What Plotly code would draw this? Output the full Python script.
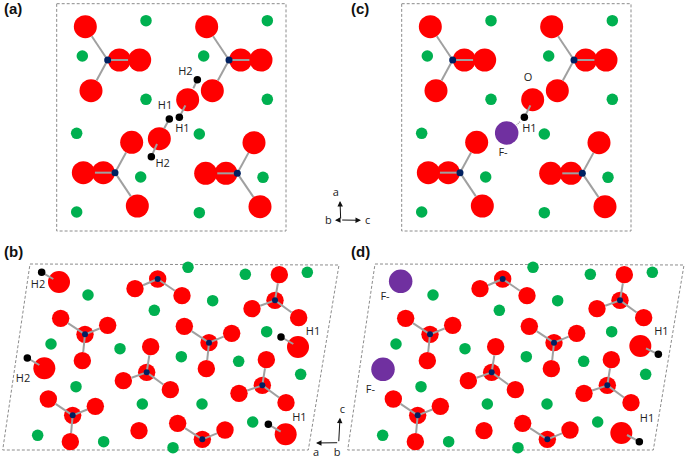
import math
import plotly.graph_objects as go

# ---- crystal-structure atom coordinates, measured in 1/3-pixel units of each panel's frame ----
# Panels (a)/(c): projection along b.  Groups of four O around each P.
AC_P_X = [323, 687, 345, 712]
AC_P_Y = [180, 180, 518, 520]
AC_O_X = [[256, 358, 419, 273], [620, 722, 783, 637], [395, 250, 310, 412], [762, 617, 678, 780]]
AC_O_Y = [[80, 180, 180, 272], [80, 180, 180, 272], [427, 518, 518, 618], [428, 520, 520, 620]]
AC_GREEN_X = [438, 802, 247, 611, 438, 802, 230, 598, 422, 789, 230, 598]
AC_GREEN_Y = [62, 62, 168, 168, 298, 298, 400, 402, 531, 532, 636, 638]

A_OW_X = [563, 478]
A_OW_Y = [299, 416]
A_H_X = [592, 508, 538, 454]
A_H_Y = [239, 357, 352, 470]
A_HB_X1 = [580, 492, 556, 471]
A_HB_Y1 = [265, 386, 316, 432]
A_LABELS = ["H2", "H1", "H1", "H2"]
A_LABEL_X = [556, 495, 547, 488]
A_LABEL_Y = [216, 320, 389, 492]

C_OW_X = [563]
C_OW_Y = [299]
C_F_X = [485]
C_F_Y = [399]
C_H_X = [538]
C_H_Y = [352]
C_HB_X1 = [556]
C_HB_Y1 = [316]
C_DOT_X = [525, 515]
C_DOT_Y = [365, 375]
C_LABELS = ["O", "H1", "F-"]
C_LABEL_X = [549, 553, 474]
C_LABEL_Y = [235, 389, 460]

# Panels (b)/(d): projection perpendicular to b.
BD_P_X = [473, 825, 255, 627, 440, 787, 218, 607]
BD_P_Y = [132, 196, 298, 323, 412, 451, 541, 613]
BD_O_X = [[405, 546], [838, 756, 896], [182, 323, 247], [553, 695, 619],
          [452, 370, 511], [799, 717, 858], [145, 286, 211], [533, 675]]
BD_O_Y = [[161, 182], [119, 221, 248], [250, 271, 377], [274, 295, 401],
          [335, 437, 464], [374, 475, 503], [492, 514, 620], [565, 585]]
BD_FREE_O_X = [417]
BD_FREE_O_Y = [587]
BD_GREEN_X = [564, 736, 922, 264, 638, 463, 800, 153, 360, 544, 716, 902, 228, 427, 606, 758, 113, 311, 519]
BD_GREEN_Y = [97, 118, 112, 180, 197, 226, 290, 327, 341, 365, 379, 418, 455, 507, 507, 561, 601, 620, 638]

B_BIG_O_X = [177, 133, 894, 857]
B_BIG_O_Y = [141, 400, 336, 598]
B_H_X = [125, 82, 843, 805]
B_H_Y = [112, 369, 306, 568]
B_HB_X1 = [160, 118, 880, 842]
B_HB_Y1 = [132, 390, 327, 590]
B_LABELS = ["H2", "H2", "H1", "H1"]
B_LABEL_X = [114, 69, 939, 898]
B_LABEL_Y = [150, 433, 291, 549]

D_BIG_O_X = [886, 829]
D_BIG_O_Y = [333, 594]
D_F_X = [167, 114]
D_F_Y = [139, 403]
D_H_X = [940, 883]
D_H_Y = [358, 620]
D_HB_X1 = [903, 846]
D_HB_Y1 = [340, 600]
D_LABELS = ["H1", "H1", "F-", "F-"]
D_LABEL_X = [949, 906, 120, 76]
D_LABEL_Y = [291, 552, 188, 465]

PANEL_LETTERS = ["(a)", "(b)", "(c)", "(d)"]

RED = "#FF0000"
GREEN = "#00B050"
NAVY = "#002060"
PURPLE = "#7030A0"
GREY = "#A0A0A0"
DASH = "#8C8C8C"
R_AC = 11.6
R_BD = 8.7

fig = go.Figure()


def px(v, ox):
    return [ox + i / 3 for i in v]


def atoms(x, y, color, size):
    fig.add_trace(go.Scatter(x=x, y=y, mode="markers", hoverinfo="skip", cliponaxis=False,
                             marker=dict(color=color, size=size, line=dict(width=0))))


def segs(x0, y0, x1, y1, color=GREY, width=2, dash="solid"):
    xs, ys = [], []
    for a, b, c, d in zip(x0, y0, x1, y1):
        xs += [a, c, None]
        ys += [b, d, None]
    fig.add_trace(go.Scatter(x=xs, y=ys, mode="lines", hoverinfo="skip",
                             line=dict(color=color, width=width, dash=dash)))


def texts(x, y, labels):
    fig.add_trace(go.Scatter(x=x, y=y, mode="text", text=labels, hoverinfo="skip", cliponaxis=False,
                             textposition="middle center",
                             textfont=dict(family="Open Sans", size=11, color="#222222")))


def groups(px_x, px_y, ox_list, oy_list, ox, oy, r):
    """Atoms and P-O bonds trimmed at the oxygen surface."""
    all_x, all_y, x0, y0, x1, y1 = [], [], [], [], [], []
    for pxv, pyv, gx, gy in zip(px_x, px_y, ox_list, oy_list):
        X, Y = ox + pxv / 3, oy + pyv / 3
        for a, b in zip(gx, gy):
            A, B = ox + a / 3, oy + b / 3
            all_x.append(A)
            all_y.append(B)
            d = math.hypot(A - X, B - Y)
            if d > r:
                x0.append(X)
                y0.append(Y)
                x1.append(A - (A - X) / d * r)
                y1.append(B - (B - Y) / d * r)
    return all_x, all_y, x0, y0, x1, y1


def frame(xs, ys):
    fig.add_trace(go.Scatter(x=xs, y=ys, mode="lines", hoverinfo="skip",
                             line=dict(color=DASH, width=1, dash="3px,2px")))


def panel_top(ox, ow_x, ow_y, h_x, h_y, hb_x1, hb_y1, labels, lx, ly, f_x=None, f_y=None):
    frame([ox + 56.7, ox + 286, ox + 286, ox + 56.7, ox + 56.7], [3.7, 3.7, 231, 231, 3.7])
    atoms(px(AC_GREEN_X, ox), px(AC_GREEN_Y, 0), GREEN, 11.5)
    X, Y, x0, y0, x1, y1 = groups(AC_P_X, AC_P_Y, AC_O_X, AC_O_Y, ox, 0, R_AC)
    atoms(X + px(ow_x, ox), Y + px(ow_y, 0), RED, 23)
    if f_x:
        atoms(px(f_x, ox), px(f_y, 0), PURPLE, 23.5)
    segs(x0, y0, x1, y1)
    segs(px(h_x, ox), px(h_y, 0), px(hb_x1, ox), px(hb_y1, 0))
    atoms(px(AC_P_X, ox), px(AC_P_Y, 0), NAVY, 7)
    atoms(px(h_x, ox), px(h_y, 0), "#000000", 7.5)
    texts(px(lx, ox), px(ly, 0), labels)


def panel_bottom(ox, big_x, big_y, h_x, h_y, hb_x1, hb_y1, labels, lx, ly, f_x=None, f_y=None):
    frame([ox + 30, ox + 339, ox + 308.3, ox + 2.7, ox + 30], [264, 265, 450, 450, 264])
    atoms(px(BD_GREEN_X, ox), px(BD_GREEN_Y, 235), GREEN, 11.5)
    X, Y, x0, y0, x1, y1 = groups(BD_P_X, BD_P_Y, BD_O_X, BD_O_Y, ox, 235, R_BD)
    atoms(X + px(BD_FREE_O_X, ox) + px(BD_P_X, ox),
          Y + px(BD_FREE_O_Y, 235) + px(BD_P_Y, 235), RED, 17.4)
    atoms(px(big_x, ox), px(big_y, 235), RED, 22)
    if f_x:
        atoms(px(f_x, ox), px(f_y, 235), PURPLE, 23.5)
    segs(x0, y0, x1, y1)
    segs(px(h_x, ox), px(h_y, 235), px(hb_x1, ox), px(hb_y1, 235))
    atoms(px(BD_P_X, ox), px(BD_P_Y, 235), NAVY, 6)
    atoms(px(h_x, ox), px(h_y, 235), "#000000", 7.5)
    texts(px(lx, ox), px(ly, 235), labels)


panel_top(0, A_OW_X, A_OW_Y, A_H_X, A_H_Y, A_HB_X1, A_HB_Y1, A_LABELS, A_LABEL_X, A_LABEL_Y)
panel_top(345, C_OW_X, C_OW_Y, C_H_X, C_H_Y, C_HB_X1, C_HB_Y1, C_LABELS, C_LABEL_X, C_LABEL_Y, C_F_X, C_F_Y)
segs(px(C_DOT_X[:1], 345), px(C_DOT_Y[:1], 0), px(C_DOT_X[1:], 345), px(C_DOT_Y[1:], 0), width=1.5, dash="1px,1px")
panel_bottom(0, B_BIG_O_X, B_BIG_O_Y, B_H_X, B_H_Y, B_HB_X1, B_HB_Y1, B_LABELS, B_LABEL_X, B_LABEL_Y)
panel_bottom(345, D_BIG_O_X, D_BIG_O_Y, D_H_X, D_H_Y, D_HB_X1, D_HB_Y1, D_LABELS, D_LABEL_X, D_LABEL_Y, D_F_X, D_F_Y)

# panel letters
for letter, x, y in zip(PANEL_LETTERS, [13, 13, 360, 360], [8, 251, 8, 251]):
    fig.add_annotation(x=x, y=y, text=f"<b>{letter}</b>", showarrow=False, xref="x", yref="y",
                       font=dict(family="Liberation Sans", size=15, color="#111111"))

# crystal axis triads
for x0, y0, x1, y1 in [(340.7, 220, 340, 201), (340.7, 220, 361, 220.3), (340.7, 220, 335, 220.3),
                       (338.7, 442.7, 340, 417.7), (338.7, 442.7, 316, 443)]:
    fig.add_annotation(x=x1, y=y1, ax=x0, ay=y0, xref="x", yref="y", axref="x", ayref="y", text="",
                       showarrow=True, arrowhead=2, arrowsize=1.1, arrowwidth=1, arrowcolor="#111111")
texts([335.7, 328.3, 367.7, 316, 337, 342.3], [193.7, 221.3, 221.3, 453, 453, 410],
      ["a", "b", "c", "a", "b", "c"])

fig.update_layout(
    width=685, height=459, margin=dict(l=0, r=0, t=0, b=0),
    paper_bgcolor="white", plot_bgcolor="white", showlegend=False,
    xaxis=dict(range=[0, 685], visible=False, fixedrange=True),
    yaxis=dict(range=[459, 0], visible=False, fixedrange=True),
)
fig.write_html("out.html", config={"displayModeBar": False},
               post_script="document.body.style.margin='0';document.documentElement.style.overflow='hidden';")
